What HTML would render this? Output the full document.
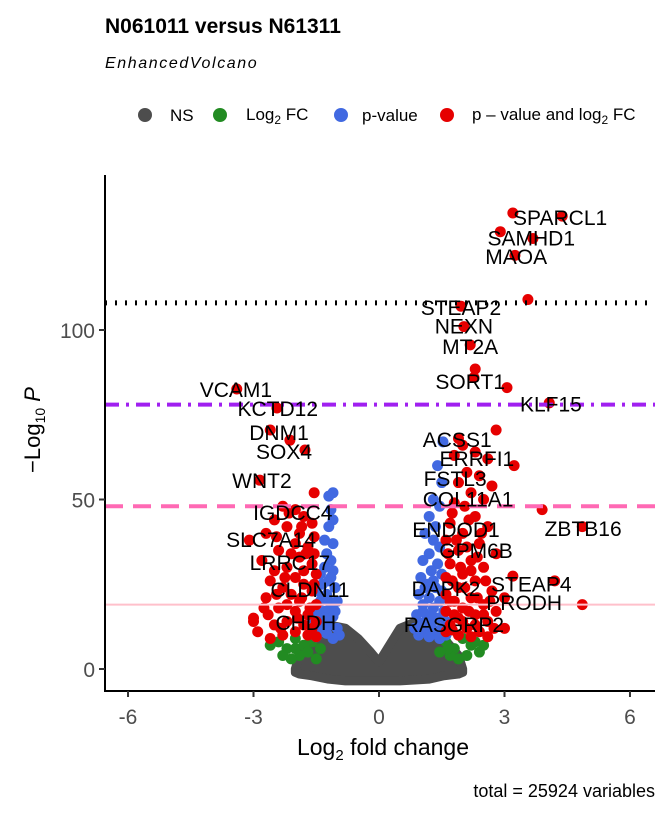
<!DOCTYPE html>
<html><head><meta charset="utf-8"><style>
body{margin:0;background:#fff;}
svg{display:block;font-family:"Liberation Sans",Arial,sans-serif;}
</style></head><body>
<svg id="chart" width="672" height="816" xmlns="http://www.w3.org/2000/svg">
<text x="105" y="33" font-size="21" font-weight="bold">N061011 versus N61311</text>
<text x="105" y="68" font-size="16" font-style="italic" letter-spacing="1.6">EnhancedVolcano</text>
<g font-size="17">
<g><circle cx="145" cy="115" r="7" fill="#4d4d4d"/><text x="170" y="121">NS</text></g>
<g><circle cx="220" cy="115" r="7" fill="#228b22"/><text x="246" y="120">Log<tspan font-size="12" dy="4">2</tspan><tspan dy="-4"> FC</tspan></text></g>
<g><circle cx="341" cy="115" r="7" fill="#4169e1"/><text x="362" y="121">p-value</text></g>
<g><circle cx="447" cy="115" r="7" fill="#e60000"/><text x="472" y="120">p – value and log<tspan font-size="12" dy="4">2</tspan><tspan dy="-4"> FC</tspan></text></g>
</g>
<g id="plot"></g>
<text x="383" y="755" font-size="23" text-anchor="middle">Log<tspan font-size="15" dy="5">2</tspan><tspan dy="-5"> fold change</tspan></text>
<text transform="translate(40,430) rotate(-90)" font-size="22" text-anchor="middle">−Log<tspan font-size="14" dy="5">10</tspan><tspan dy="-5" font-style="italic"> P</tspan></text>
<text x="655" y="797" font-size="18" text-anchor="end">total = 25924 variables</text>
</svg>
<script>
const xTicks=[-6,-3,0,3,6];
const yTicks=[0,50,100];
const cutoffs=[108,78,48,19];
const nsEnvelope=[[-2.0,0,-1],[-1.9,4,-1.5],[-1.6,9,-2],[-1.2,13,-3],[-0.8,12,-3.5],[-0.5,9,-3.5],[-0.2,5,-3.5],[0,2,-3.5],[0.2,6,-3.5],[0.5,12,-3.5],[0.9,14,-3.2],[1.2,13,-3],[1.55,9,-2],[1.9,4,-1.5],[2.0,0,-1]];
const greenPts=[[-1.6,8],[-1.8,7],[-2.0,9],[-2.2,6],[-1.7,5],[-2.4,8],[-1.9,4],[-2.6,7],[-2.1,3],[-1.5,3],[-2.3,4],[-1.65,10],[-2.0,6],[-1.4,6],[1.6,8],[1.8,6],[2.0,9],[2.2,7],[1.7,4],[2.4,5],[1.9,3],[1.55,10],[2.1,4],[2.3,8],[1.65,6],[2.5,7],[1.45,5]];
const bluePts=[[-1.1,52],[-1.2,51],[-1.15,47],[-1.1,44],[-1.2,42],[-1.3,38],[-1.1,37],[-1.25,34],[-1.15,32],[-1.3,30],[-1.1,29],[-1.4,28],[-1.2,26],[-1.35,25],[-1.05,24],[-1.5,23],[-1.25,22],[-1.4,20],[-1.15,19],[-1.55,18],[-1.3,17],[-1.45,16],[-1.1,15.5],[-1.6,15],[-1.35,14],[-1.2,13],[-1.5,12.5],[-1.0,12],[-1.4,11],[-1.6,11],[-1.25,10.5],[-0.95,10],[-1.5,9.5],[-1.1,9],[-1.2,20],[-1.35,21],[-1.05,17],[-1.3,15],[-1.15,27],[-1.0,20],[1.53,67],[1.4,60],[1.5,55],[1.3,50],[1.45,48],[1.2,45],[1.35,42],[1.1,40],[1.3,38],[1.45,36],[1.2,34],[1.05,32],[1.4,31],[1.25,29],[1.5,28],[1.0,27],[1.15,25],[1.35,24],[1.5,23],[0.95,22],[1.2,21],[1.45,20],[1.05,19],[1.3,18],[1.55,17],[0.9,16],[1.15,15.5],[1.4,15],[1.6,14],[1.0,13.5],[1.25,13],[1.5,12],[0.85,12],[1.1,11],[1.35,10.5],[1.6,10],[0.95,10],[1.2,9.5],[1.45,9],[1.3,26],[1.1,24],[1.05,17],[1.25,16]];
const redPts=[[-3.4,82.6],[-2.44,77],[-2.6,70.5],[-2.13,67.5],[-1.77,64.6],[-2.85,55.7],[-1.55,52],[-2.3,48],[-2.0,47],[-1.8,45],[-2.5,44],[-2.2,42],[-1.9,40],[-1.6,43],[-2.7,40],[-3.1,38],[-2.0,37],[-1.7,36],[-2.4,35],[-1.9,33],[-1.6,31],[-2.2,30],[-2.8,32],[-1.5,28],[-2.0,27],[-2.6,26],[-1.8,25],[-2.3,24],[-1.6,23],[-2.1,22],[-2.7,21],[-1.9,20],[-1.5,19],[-2.4,18],[-2.0,17],[-1.7,16],[-3.0,15],[-2.2,14],[-1.8,13],[-2.5,13],[-1.6,12],[-2.0,11],[-2.9,11],[-3.0,14],[-1.7,10],[-2.3,10],[-1.5,9.5],[-2.6,9],[-2.15,46],[-1.85,42],[-2.45,39],[-1.55,39],[-2.1,34],[-1.55,34],[-2.5,29],[-1.8,29],[-2.25,27],[-1.55,25],[-2.45,22],[-1.85,21],[-2.2,19],[-1.65,18],[-2.65,16],[-1.95,15],[-1.5,14],[-2.35,12],[-2.75,18],[-1.75,34],
[3.2,134.5],[4.38,133.6],[2.9,129],[3.68,127],[3.25,122],[3.56,109],[1.96,107],[2.03,101],[2.18,95.6],[2.3,88.5],[2.27,86],[3.06,83],[4.07,78.5],[2.8,70.5],[1.9,68],[2.0,66],[2.3,64],[1.8,63],[2.6,62],[3.23,60],[2.1,58],[2.4,57],[1.9,55],[2.7,54],[2.2,52],[2.5,50],[1.8,49],[2.05,48],[3.9,47],[4.86,42],[2.3,45],[1.7,43],[2.6,42],[2.0,40],[1.6,38],[2.4,37],[1.9,35],[2.8,34],[2.2,32],[1.7,31],[2.5,30],[2.0,28],[3.2,27.4],[1.6,27],[2.3,26],[4.2,26],[1.9,24],[2.7,23],[1.6,22],[2.2,21],[3.0,21],[1.8,20],[2.5,19],[4.86,19],[2.0,18],[1.6,17],[2.8,17],[2.3,16],[1.9,15],[2.6,14],[1.7,13],[2.1,12],[3.0,12],[1.6,11],[2.4,11],[1.9,10],[2.2,9.5],[1.75,46],[2.15,44],[2.45,40],[1.85,38],[2.1,36],[1.65,34],[2.35,33],[1.95,30],[2.2,29],[1.75,26],[2.55,26],[2.05,24],[1.7,20],[2.35,21],[2.65,20],[2.15,17],[1.8,16],[2.5,16],[2.0,14],[2.75,12],[1.75,11.5],[2.3,13],[2.6,9.5]];
const labelNames=["SPARCL1","SAMHD1","MAOA","STEAP2","NEXN","MT2A","SORT1","KLF15","VCAM1","KCTD12","DNM1","SOX4","WNT2","ACSS1","ERRFI1","FSTL3","COL11A1","ZBTB16","IGDCC4","SLC7A14","LRRC17","ENDOD1","GPM6B","CLDN11","DAPK2","STEAP4","PRODH","CHDH","RASGRP2"];
const labelX=[4.33,3.64,3.28,1.96,2.03,2.18,2.18,4.11,-3.42,-2.42,-2.39,-2.27,-2.8,1.87,2.34,1.82,2.13,4.88,-2.06,-2.58,-2.13,1.84,2.32,-1.65,1.6,3.64,3.47,-1.75,1.79];
const labelY=[133,127,121.5,106.5,101,95,84.7,78,82.3,76.7,69.6,64,55.5,67.5,62,56,50,41.3,46,38,31.3,41,34.8,23.3,23.6,25,19.5,13.6,13];

const NS='http://www.w3.org/2000/svg';
const L=105,R=655,T=175,B=691;
const xs=v=>379+v*41.83;
const ys=v=>669-v*3.39;
const g=document.getElementById('plot');
function mk(tag,at){const e=document.createElementNS(NS,tag);for(const k in at)e.setAttribute(k,at[k]);g.appendChild(e);return e;}
let d='M'+nsEnvelope.map(p=>xs(p[0])+','+ys(p[1])).join(' L')+' L'+nsEnvelope.slice().reverse().map(p=>xs(p[0])+','+ys(p[2])).join(' L')+'Z';
const ns=mk('path',{d:d,fill:'#4d4d4d',stroke:'#4d4d4d','stroke-width':9,'stroke-linejoin':'round'});


function pts(arr,col,name){arr.forEach(p=>{const c=mk('circle',{cx:xs(p[0]),cy:ys(p[1]),r:5.5,fill:col});

});}
pts(greenPts,'#228b22','log2fc-point');
pts(bluePts,'#4169e1','pvalue-point');
pts(redPts,'#e60000','significant-point');
const styles=[['#000','2 8',5],['#a020f0','14 7 3 7',4],['#ff69b4','18 10',4],['#ffc0cb','',2]];
const names=['cutoff-line-108','cutoff-line-78','cutoff-line-48','cutoff-line-19'];
cutoffs.forEach((v,i)=>{const l=mk('line',{x1:L,x2:R,y1:ys(v),y2:ys(v),stroke:styles[i][0],'stroke-width':styles[i][2],'stroke-dasharray':styles[i][1]});

});
labelNames.forEach((n,i)=>{const t=mk('text',{x:xs(labelX[i]),y:ys(labelY[i])+7,'font-size':21,'text-anchor':'middle'});t.textContent=n;

});
const ax=mk('path',{d:`M${L},${T} L${L},${B} L${R},${B}`,fill:'none',stroke:'#000','stroke-width':2});


xTicks.forEach(v=>{mk('line',{x1:xs(v),x2:xs(v),y1:B,y2:B+6,stroke:'#333','stroke-width':2});
const t=mk('text',{x:xs(v),y:B+33,'font-size':21,'text-anchor':'middle',fill:'#4d4d4d'});t.textContent=v;

});
yTicks.forEach(v=>{mk('line',{x1:L-6,x2:L,y1:ys(v),y2:ys(v),stroke:'#333','stroke-width':2});
const t=mk('text',{x:L-10,y:ys(v)+8,'font-size':21,'text-anchor':'end',fill:'#4d4d4d'});t.textContent=v;

});
</script>
</body></html>
